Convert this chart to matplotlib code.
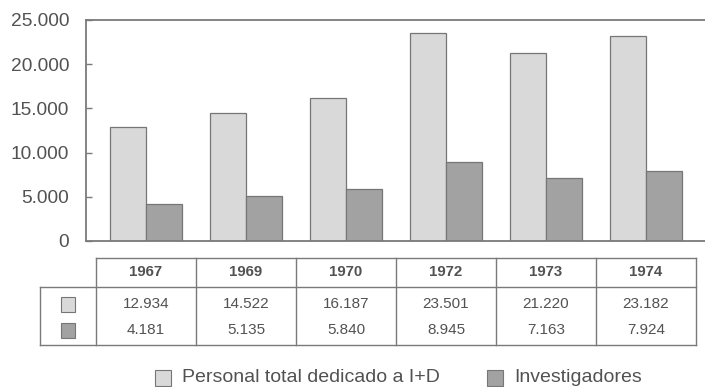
import matplotlib
matplotlib.use("Agg")
import matplotlib.pyplot as plt
from matplotlib.patches import Rectangle
from matplotlib.ticker import FuncFormatter
import numpy as np

# Personal dedicado a I+D en España
years = ["1967", "1969", "1970", "1972", "1973", "1974"]
personal_total = [12934, 14522, 16187, 23501, 21220, 23182]
investigadores = [4181, 5135, 5840, 8945, 7163, 7924]
series_names = ["Personal total dedicado a I+D", "Investigadores"]
y_ticks = [0, 5000, 10000, 15000, 20000, 25000]

LIGHT = "#d9d9d9"
DARK = "#a2a2a2"
EDGE = "#767676"
TEXT = "#525252"
LINE = "#7a7a7a"

plt.rcParams["font.family"] = ["Liberation Sans", "DejaVu Sans"]

W, H = 705, 387
fig = plt.figure(figsize=(W / 100, H / 100), dpi=100)

# axes box in pixel units (left, top, right, bottom)
ax_l, ax_t, ax_r, ax_b = 86, 20, 705, 241
ax = fig.add_axes([ax_l / W, 1 - ax_b / H, (ax_r - ax_l) / W, (ax_b - ax_t) / H])

x = np.arange(len(years))
bw = 0.36
ax.bar(x - bw / 2, personal_total, width=bw, color=LIGHT, edgecolor=EDGE, linewidth=0.9)
ax.bar(x + bw / 2, investigadores, width=bw, color=DARK, edgecolor=EDGE, linewidth=0.9)

ax.set_xlim(-0.6, -0.6 + (ax_r - ax_l) / 100)
ax.set_ylim(0, 25000)
ax.set_yticks(y_ticks)
ax.yaxis.set_major_formatter(FuncFormatter(lambda v, p: f"{int(v):,}".replace(",", ".")))
ax.set_xticks([])
ax.tick_params(axis="y", direction="in", length=4, width=1, color=LINE,
               labelsize=13.8, labelcolor=TEXT, pad=12)
for side in ("left", "top", "bottom"):
    ax.spines[side].set_color(LINE)
    ax.spines[side].set_linewidth(1.3)
ax.spines["right"].set_visible(False)


def fy(py):
    """Pixel row (from top) to axes fraction."""
    return (ax_b - py) / (ax_b - ax_t)


tr = ax.get_xaxis_transform()  # x in data, y in axes fraction

# data table below the chart
top, head_bot, bot = 258, 287, 345
row_y = [304, 330]
lab_left = -0.5 - (97 - 41) / 100
x_left, x_right = -0.5, len(years) - 0.5
lw = 1.0
kw = dict(color=LINE, lw=lw, transform=tr, clip_on=False)

ax.plot([x_left, x_right], [fy(top), fy(top)], **kw)
ax.plot([lab_left, x_right], [fy(head_bot), fy(head_bot)], **kw)
ax.plot([lab_left, x_right], [fy(bot), fy(bot)], **kw)
ax.plot([lab_left, lab_left], [fy(head_bot), fy(bot)], **kw)
for i in range(len(years) + 1):
    xv = i - 0.5
    ax.plot([xv, xv], [fy(top), fy(bot)], **kw)

for i, yr in enumerate(years):
    ax.text(i, fy((top + head_bot) / 2), yr, transform=tr, ha="center", va="center",
            fontsize=10.8, fontweight="bold", color=TEXT, clip_on=False)
    for vals, ry in ((personal_total, row_y[0]), (investigadores, row_y[1])):
        ax.text(i, fy(ry), f"{vals[i]:,}".replace(",", "."), transform=tr, ha="center",
                va="center", fontsize=11, color=TEXT, clip_on=False)

# swatches in the label column
sw = 0.145
sh = 15 / (ax_b - ax_t)
cx = (lab_left + x_left) / 2
for col, ry in ((LIGHT, row_y[0]), (DARK, row_y[1])):
    ax.add_patch(Rectangle((cx - sw / 2, fy(ry) - sh / 2), sw, sh, facecolor=col,
                           edgecolor=EDGE, linewidth=0.8, transform=tr, clip_on=False))

# legend
ly = 1 - 378 / H
for px, col, name in ((155, LIGHT, series_names[0]), (487, DARK, series_names[1])):
    fig.patches.append(Rectangle((px / W, ly - 8 / H), 16 / W, 16 / H, facecolor=col,
                                 edgecolor=EDGE, linewidth=0.8, transform=fig.transFigure))
    fig.text((px + 27) / W, ly, name, ha="left", va="center", fontsize=14, color=TEXT)

fig.savefig("out.png", dpi=100)
